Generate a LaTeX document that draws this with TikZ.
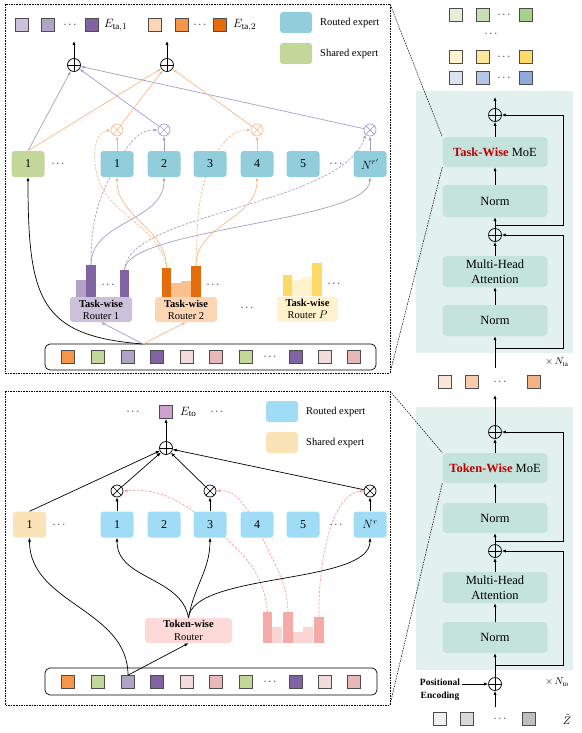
\documentclass[tikz,border=0pt]{standalone}
\usepackage{fontspec}
\setmainfont{Liberation Serif}
\usetikzlibrary{arrows.meta,backgrounds}

\definecolor{tealbg}{RGB}{226,240,238}
\definecolor{tealbox}{RGB}{197,227,221}
\definecolor{routedA}{RGB}{146,205,220}
\definecolor{sharedA}{RGB}{196,215,155}
\definecolor{routedB}{RGB}{160,220,245}
\definecolor{sharedB}{RGB}{250,227,182}
\definecolor{purL}{RGB}{204,192,218}
\definecolor{purM}{RGB}{179,162,199}
\definecolor{purD}{RGB}{128,100,162}
\definecolor{oraL}{RGB}{252,213,181}
\definecolor{oraM}{RGB}{250,192,144}
\definecolor{oraS}{RGB}{247,150,70}
\definecolor{oraD}{RGB}{228,108,10}
\definecolor{yelL}{RGB}{255,242,204}
\definecolor{yelM}{RGB}{255,230,153}
\definecolor{yelD}{RGB}{255,217,102}
\definecolor{grnL}{RGB}{226,239,217}
\definecolor{grnM}{RGB}{197,224,180}
\definecolor{grnD}{RGB}{169,209,142}
\definecolor{bluL}{RGB}{218,227,243}
\definecolor{bluM}{RGB}{180,199,231}
\definecolor{bluD}{RGB}{143,170,220}
\definecolor{peaL}{RGB}{251,229,214}
\definecolor{peaM}{RGB}{248,203,173}
\definecolor{peaD}{RGB}{244,177,131}
\definecolor{gryL}{RGB}{240,240,240}
\definecolor{gryM}{RGB}{217,217,217}
\definecolor{gryD}{RGB}{191,191,191}
\definecolor{pinkL}{RGB}{242,220,219}
\definecolor{pinkM}{RGB}{230,185,184}
\definecolor{rose}{RGB}{246,170,168}
\definecolor{roseL}{RGB}{251,213,212}
\definecolor{roseR}{RGB}{253,217,216}
\definecolor{eto}{RGB}{205,162,204}
\definecolor{purline}{RGB}{170,155,200}
\definecolor{oraline}{RGB}{250,185,135}
\definecolor{roseline}{RGB}{244,160,158}
\definecolor{redtxt}{RGB}{192,0,0}

\tikzset{
  sq/.style={draw=black!70, line width=0.7pt, minimum size=13pt, inner sep=0pt},
  legbox/.style={rounded corners=3pt, minimum width=32pt, minimum height=21pt, inner sep=0pt},
  legtxt/.style={anchor=west, inner sep=0pt, font=\fontsize{10.5}{10.5}\selectfont},
  expbox/.style={rounded corners=3pt, minimum width=33pt, minimum height=26pt, inner sep=0pt, font=\fontsize{12}{12}\selectfont},
  router/.style={rounded corners=3pt, minimum height=25pt, inner sep=0pt, align=center, font=\fontsize{10.5}{12}\selectfont},
  layer/.style={fill=tealbox, rounded corners=4pt, minimum width=105pt, inner sep=0pt, align=center, font=\fontsize{12.5}{15}\selectfont},
  dots/.style={inner sep=0pt, font=\fontsize{11}{11}\selectfont},
  addop/.style={circle, draw=#1, line width=0.7pt, minimum size=13pt, inner sep=0pt,
    path picture={\draw[#1, line width=0.7pt] (path picture bounding box.north) -- (path picture bounding box.south)
      (path picture bounding box.west) -- (path picture bounding box.east);}},
  addop/.default=black,
  mulop/.style={circle, draw=#1, line width=0.7pt, minimum size=12pt, inner sep=0pt,
    path picture={\draw[#1, line width=0.7pt] (path picture bounding box.north west) -- (path picture bounding box.south east)
      (path picture bounding box.north east) -- (path picture bounding box.south west);}},
  mulop/.default=black,
  arr/.style={-{Latex[length=4pt,width=3.2pt]}, line width=0.7pt},
  panel/.style={draw, dash pattern=on 1.6pt off 1pt, line width=0.5pt},
  pl/.style={draw=purline, line width=0.7pt},
  ol/.style={draw=oraline, line width=0.7pt},
  dl/.style={dash pattern=on 2.5pt off 1.5pt},
}

\begin{document}
\begin{tikzpicture}[x=1pt, y=-1pt]
\useasboundingbox (0,0) rectangle (581,733);

%%%%%%%%%%%%%%%% task-wise panel %%%%%%%%%%%%%%%%
\draw[panel] (5,4) rectangle (390,373);

%output tokens
\node[sq, fill=purL] (oa1) at (22,25) {};
\node[sq, fill=purM] (oa2) at (48,25) {};
\node[dots] at (70,25) {$\cdots$};
\node[sq, fill=purD] (oa3) at (92,25) {};
\node[anchor=west, inner sep=1pt, font=\fontsize{13}{13}\selectfont] at (103,25) {$E_{\mathrm{ta},1}$};
\node[sq, fill=oraL] (ob1) at (155,25) {};
\node[sq, fill=oraS] (ob2) at (182,25) {};
\node[dots] at (200,25) {$\cdots$};
\node[sq, fill=oraD] (ob3) at (220,25) {};
\node[anchor=west, inner sep=1pt, font=\fontsize{13}{13}\selectfont] at (232,25) {$E_{\mathrm{ta},2}$};

%legend
\node[legbox, fill=routedA] (legra) at (296,22.5) {};
\node[legtxt] at (320,22.5) {Routed expert};
\node[legbox, fill=sharedA] (legsa) at (296,53.5) {};
\node[legtxt] at (320,53.5) {Shared expert};

%sums and gates
\node[addop] (suma) at (74,65) {};
\node[addop] (sumb) at (167,65) {};
\node[mulop=oraline] (mul1) at (117,130) {};
\node[mulop=purline] (mul2) at (164,130) {};
\node[mulop=oraline] (mul4) at (257,130) {};
\node[mulop=purline] (muln) at (370,130) {};

%experts
\node[expbox, fill=sharedA] (sha1) at (28,164) {1};
\node[dots] at (58,164) {$\cdots$};
\node[expbox, fill=routedA] (rta1) at (117,164) {1};
\node[expbox, fill=routedA] (rta2) at (164,164) {2};
\node[expbox, fill=routedA] (rta3) at (210,164) {3};
\node[expbox, fill=routedA] (rta4) at (257,164) {4};
\node[expbox, fill=routedA] (rta5) at (303,164) {5};
\node[dots] at (336,164) {$\cdots$};
\node[expbox, fill=routedA] (rtan) at (370,164) {$N^{r'}$};

%routers
\node[router, fill=purL, minimum width=62pt] (rout1) at (101,309.5) {\textbf{Task-wise}\\Router 1};
\node[router, fill=oraL, minimum width=62pt] (rout2) at (186,309.5) {\textbf{Task-wise}\\Router 2};
\node[dots] at (247,308) {$\cdots$};
\node[router, fill=yelL, minimum width=61pt] (routp) at (307.5,309) {\textbf{Task-wise}\\Router $P$};

%router scores
\fill[purM] (76,297) rectangle (86,280);
\fill[purD] (86,297) rectangle (96,265);
\node[dots] at (108,285) {$\cdots$};
\fill[purD] (120,297) rectangle (129,270);
\fill[oraD] (162,297) rectangle (171,268);
\fill[oraM] (171,297) rectangle (181,283);
\fill[oraM] (181,297) rectangle (191,281);
\fill[oraD] (191,297) rectangle (201,266);
\node[dots] at (213,285) {$\cdots$};
\fill[yelD] (283,296) rectangle (292,275);
\fill[yelL] (292,296) rectangle (302,280);
\fill[yelL] (302,296) rectangle (312,277);
\fill[yelD] (312,296) rectangle (322,263);
\node[dots] at (334,284) {$\cdots$};
\coordinate (spa) at (91,265); \coordinate (spc) at (124.5,270);
\coordinate (sqa) at (166.5,268); \coordinate (sqd) at (196,266);

%token row
\node[draw, rounded corners=5pt, line width=0.7pt, minimum width=331pt, minimum height=26pt] (rowa) at (210.5,357) {};
\foreach \c/\x [count=\i] in {oraS/68,sharedA/98,purM/128,purD/157,pinkL/187,pinkM/216,sharedA/246,purD/296,pinkL/325,pinkM/354}
  \node[sq, fill=\c] (ta\i) at (\x,357) {};
\node[dots] at (270,357) {$\cdots$};
\coordinate (tasrc) at (143,344);

%gating, behind the experts
\begin{scope}[on background layer]
\draw[pl, dl, arr] (spa) to[out=90, in=-120] (rta1.center) to[out=60, in=180] (mul2.west);
\draw[pl, dl, arr] (spc) .. controls (127,212) and (343,206) .. (muln.south west);
\draw[ol, dl, arr] (sqa) to[out=100, in=-80] (96,170) to[out=100, in=190] (mul1.west);
\draw[ol, dl, arr] (sqd) to[out=88, in=-110] (rta3.center) to[out=60, in=180] (mul4.west);
\end{scope}

%routing
\draw[pl, arr] (spa) to[out=90, in=-90] (rta2.south);
\draw[pl, arr] (spc) .. controls (126,228) and (368,222) .. (rtan.south);
\draw[ol, arr] (sqa) to[out=90, in=-90] (rta1.south);
\draw[ol, arr] (sqd) to[out=90, in=-90] (rta4.south);
\draw[arr] (tasrc) .. controls (40,336) and (28,300) .. (sha1.south);
\draw[pl, arr] (tasrc) -- (rout1.south);
\draw[ol, arr] (tasrc) -- (rout2.south);

%combining
\draw[ol, arr] (rta1.north) -- (mul1.south);
\draw[pl, arr] (rta2.north) -- (mul2.south);
\draw[ol, arr] (rta4.north) -- (mul4.south);
\draw[pl, arr] (rtan.north) -- (muln.south);
\draw[pl, arr] (sha1.north) -- (suma);
\draw[ol, arr] (sha1.north) -- (sumb);
\draw[pl, arr] (mul2) -- (suma);
\draw[pl, arr] (muln) -- (suma);
\draw[ol, arr] (mul1) -- (sumb);
\draw[ol, arr] (mul4) -- (sumb);
\draw[arr] (suma.north) -- (74,41);
\draw[arr] (sumb.north) -- (167,41);

%%%%%%%%%%%%%%%% token-wise panel %%%%%%%%%%%%%%%%
\draw[panel] (5,391) rectangle (390,705);

%output token
\node[dots] at (133,412) {$\cdots$};
\node[sq, fill=eto] (ot1) at (166,412) {};
\node[anchor=west, inner sep=1pt, font=\fontsize{13}{13}\selectfont] at (179,412) {$E_{\mathrm{to}}$};
\node[dots] at (217,412) {$\cdots$};

%legend
\node[legbox, fill=routedB] (legrb) at (282,411.5) {};
\node[legtxt] at (306,411.5) {Routed expert};
\node[legbox, fill=sharedB] (legsb) at (282,442.5) {};
\node[legtxt] at (306,442.5) {Shared expert};

%sum and gates
\node[addop] (sumt) at (166,448) {};
\node[mulop] (mut1) at (117,491) {};
\node[mulop] (mut3) at (210,491) {};
\node[mulop] (mutn) at (370,491) {};

%experts
\node[expbox, fill=sharedB] (shb1) at (29.5,524.5) {1};
\node[dots] at (59,525) {$\cdots$};
\node[expbox, fill=routedB] (rtb1) at (117,524.5) {1};
\node[expbox, fill=routedB] (rtb2) at (164,524.5) {2};
\node[expbox, fill=routedB] (rtb3) at (210,524.5) {3};
\node[expbox, fill=routedB] (rtb4) at (257,524.5) {4};
\node[expbox, fill=routedB] (rtb5) at (303,524.5) {5};
\node[dots] at (336,525) {$\cdots$};
\node[expbox, fill=routedB] (rtbn) at (370,524.5) {$N^{r}$};

%router
\node[router, fill=roseR, minimum width=87pt, font=\fontsize{10.5}{13}\selectfont] (routt) at (188.5,630.5) {\textbf{Token-wise}\\Router};
\fill[rose] (263,643) rectangle (272,612);
\fill[roseL] (272,643) rectangle (282,627);
\fill[rose] (283,643) rectangle (293,612);
\fill[roseL] (293,643) rectangle (303,632);
\fill[roseL] (303,643) rectangle (313,627);
\fill[rose] (314,643) rectangle (324,617);
\coordinate (sr1) at (267.5,612); \coordinate (sr3) at (288,612); \coordinate (sr6) at (319,617);

%token row
\node[draw, rounded corners=5pt, line width=0.7pt, minimum width=332pt, minimum height=27pt] (rowb) at (211,681.5) {};
\foreach \c/\x [count=\i] in {oraS/68,sharedA/98,purM/128,purD/157,pinkL/187,pinkM/216,sharedA/246,purD/296,pinkL/325,pinkM/354}
  \node[sq, fill=\c] (tb\i) at (\x,682) {};
\node[dots] at (270,682) {$\cdots$};

%gating, behind the experts
\begin{scope}[on background layer]
\draw[draw=roseline, line width=0.7pt, dl, arr] (sr1) to[out=95, in=-40] (rtb3.center) to[out=140, in=5] (mut1.east);
\draw[draw=roseline, line width=0.7pt, dl, arr] (sr3) to[out=92, in=-70] (rtb4.center) to[out=125, in=5] (mut3.east);
\draw[draw=roseline, line width=0.7pt, dl, arr] (sr6) .. controls (318,560) and (332,494) .. (mutn.west);
\end{scope}

%routing
\draw[arr] (routt.north) to[out=100, in=-90] (rtb1.south);
\draw[arr] (routt.north) to[out=80, in=-90] (rtb3.south);
\draw[arr] (routt.north) .. controls (193,572) and (370,585) .. (rtbn.south);
\draw[arr] (tb3.north) to[out=90, in=-90] (shb1.south);
\draw[arr] (tb3.north) -- (routt.south);

%combining
\draw[arr] (rtb1.north) -- (mut1.south);
\draw[arr] (rtb3.north) -- (mut3.south);
\draw[arr] (rtbn.north) -- (mutn.south);
\draw[arr] (shb1.north) -- (sumt);
\draw[arr] (mut1) -- (sumt);
\draw[arr] (mut3) -- (sumt);
\draw[arr] (mutn) -- (sumt);
\draw[arr] (sumt.north) -- (ot1.south);

%%%%%%%%%%%%%%%% encoder column %%%%%%%%%%%%%%%%
%output tokens
\foreach \c/\x [count=\i] in {grnL/456,grnM/483,grnD/526} \node[sq, fill=\c] (og\i) at (\x,15) {};
\foreach \c/\x [count=\i] in {yelL/456,yelM/483,yelD/526} \node[sq, fill=\c] (oy\i) at (\x,57) {};
\foreach \c/\x [count=\i] in {bluL/456,bluM/483,bluD/526} \node[sq, fill=\c] (ol\i) at (\x,78) {};
\node[dots] at (504,15) {$\cdots$};
\node[dots] at (491,34) {$\cdots$};
\node[dots] at (504,57) {$\cdots$};
\node[dots] at (504,78) {$\cdots$};

%task-wise block
\fill[tealbg] (416,91) rectangle (573,353);
\node[addop] (adta) at (495,115) {};
\node[layer, minimum height=30pt] (moeta) at (495,152) {\textbf{\color{redtxt}Task-Wise} MoE};
\node[layer, minimum height=32pt] (normta) at (495,201) {Norm};
\node[addop] (adtb) at (495,235) {};
\node[layer, minimum height=31pt] (mhata) at (495,271.5) {Multi-Head\\Attention};
\node[layer, minimum height=31pt] (normtb) at (495,320.5) {Norm};
\node[font=\fontsize{10}{10}\selectfont] at (557,362) {$\times\,N_{\mathrm{ta}}$};
\coordinate (jta) at (495,225); \coordinate (jtb) at (495,348); \coordinate (inta) at (495,368);

\draw[arr] (adta.north) -- (495,97);
\draw[arr] (moeta.north) -- (adta.south);
\draw[arr] (normta.north) -- (moeta.south);
\draw[arr] (adtb.north) -- (normta.south);
\draw[arr] (mhata.north) -- (adtb.south);
\draw[arr] (normtb.north) -- (mhata.south);
\draw[arr] (inta) -- (normtb.south);
\draw[arr] (jta) -- (563,225) |- (adta.east);
\draw[arr] (jtb) -- (563,348) |- (adtb.east);

%intermediate tokens
\foreach \c/\x [count=\i] in {peaL/445,peaM/472,peaD/534} \node[sq, fill=\c] (om\i) at (\x,382) {};
\node[dots] at (500,382) {$\cdots$};

%token-wise block
\fill[tealbg] (416,407) rectangle (573,670);
\node[addop] (adoa) at (495,432) {};
\node[layer, minimum height=30pt] (moeto) at (495,468) {\textbf{\color{redtxt}Token-Wise} MoE};
\node[layer, minimum height=30pt] (normoa) at (495,518) {Norm};
\node[addop] (adob) at (495,551) {};
\node[layer, minimum height=31pt] (mhato) at (495,587.5) {Multi-Head\\Attention};
\node[layer, minimum height=31pt] (normob) at (495,637.5) {Norm};
\node[font=\fontsize{10}{10}\selectfont] at (557,682) {$\times\,N_{\mathrm{to}}$};
\coordinate (joa) at (495,541); \coordinate (job) at (495,665);

\draw[arr] (adoa.north) -- (495,395);
\draw[arr] (moeto.north) -- (adoa.south);
\draw[arr] (normoa.north) -- (moeto.south);
\draw[arr] (adob.north) -- (normoa.south);
\draw[arr] (mhato.north) -- (adob.south);
\draw[arr] (normob.north) -- (mhato.south);
\draw[arr] (joa) -- (563,541) |- (adoa.east);
\draw[arr] (job) -- (563,665) |- (adob.east);

%positional encoding and input
\node[addop] (adpe) at (495,684) {};
\node[align=center, inner sep=0pt, font=\fontsize{9.5}{13}\selectfont\bfseries] (petxt) at (440,690) {Positional\\Encoding};
\draw[arr] (petxt.north east |- adpe) ++(2,0) -- (adpe.west);
\draw[arr] (adpe.north) -- (normob.south);
\draw[arr] (495,707) -- (adpe.south);
\foreach \c/\x [count=\i] in {gryL/440,gryM/467,gryD/529} \node[sq, fill=\c] (oz\i) at (\x,719) {};
\node[dots] at (500,719) {$\cdots$};
\node[font=\fontsize{11}{11}\selectfont] at (567,719) {$\tilde{Z}$};

%zoom lines
\draw[dash pattern=on 1.6pt off 1pt, line width=0.5pt] (390,4) -- (moeta.north west);
\draw[dash pattern=on 1.6pt off 1pt, line width=0.5pt] (moeta.south west) -- (390,373);
\draw[dash pattern=on 1.6pt off 1pt, line width=0.5pt] (390,391) -- (moeto.north west);
\draw[dash pattern=on 1.6pt off 1pt, line width=0.5pt] (moeto.south west) -- (390,705);

\end{tikzpicture}
\end{document}
